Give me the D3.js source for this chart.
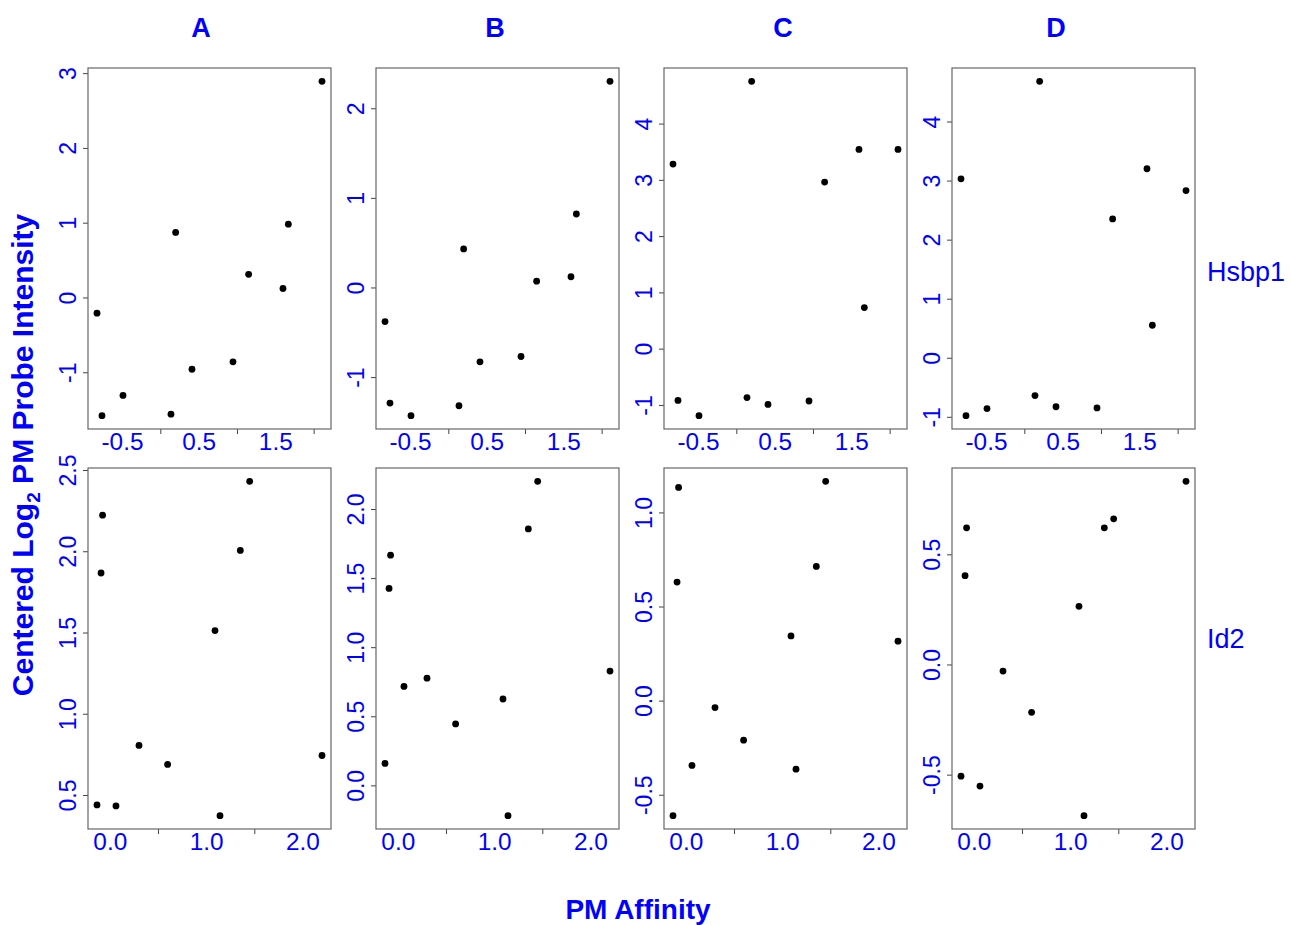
<!DOCTYPE html>
<html>
<head>
<meta charset="utf-8">
<script src="https://cdn.jsdelivr.net/npm/d3@7"></script>
<style>
  body { margin: 0; background: #fff; }
  svg text { font-family: Arial, "Liberation Sans", sans-serif; }
</style>
</head>
<body>
<svg id="chart"></svg>
<script>
const samples = ["A", "B", "C", "D"];
const genes = ["Hsbp1", "Id2"];

// PM affinity of each probe (x), one list per gene
const affinityHsbp1 = [-0.826, -0.761, -0.487, 0.139, 0.200, 0.413, 0.948, 1.152, 1.600, 1.670, 2.109];
const affinityId2 = [-0.133, -0.091, -0.075, 0.064, 0.303, 0.600, 1.092, 1.144, 1.355, 1.452, 2.203];

// centered log2 PM intensity, same probe order
const hsbp1A = [-0.21, -1.58, -1.31, -1.56, 0.87, -0.96, -0.86, 0.31, 0.12, 0.98, 2.89];
const hsbp1B = [-0.38, -1.29, -1.43, -1.32, 0.43, -0.83, -0.77, 0.07, 0.12, 0.82, 2.30];
const hsbp1C = [3.28, -0.92, -1.19, -0.87, 4.75, -0.99, -0.93, 2.96, 3.54, 0.73, 3.54];
const hsbp1D = [3.03, -0.98, -0.86, -0.64, 4.68, -0.83, -0.85, 2.35, 3.20, 0.55, 2.83];

const id2A = [0.439, 1.866, 2.222, 0.433, 0.805, 0.688, 1.512, 0.373, 2.005, 2.430, 0.743];
const id2B = [0.159, 1.425, 1.666, 0.716, 0.776, 0.445, 0.625, -0.219, 1.856, 2.200, 0.827];
const id2C = [-0.611, 0.630, 1.133, -0.344, -0.037, -0.210, 0.344, -0.364, 0.713, 1.165, 0.316];
const id2D = [-0.507, 0.403, 0.620, -0.552, -0.030, -0.217, 0.264, -0.686, 0.620, 0.661, 0.831];

// tick values
const yTicksHsbp1 = [[-1, 0, 1, 2, 3], [-1, 0, 1, 2], [-1, 0, 1, 2, 3, 4], [-1, 0, 1, 2, 3, 4]];
const yTicksId2 = [[0.5, 1.0, 1.5, 2.0, 2.5], [0.0, 0.5, 1.0, 1.5, 2.0], [-0.5, 0.0, 0.5, 1.0], [-0.5, 0.0, 0.5]];
const xLabelsHsbp1 = [-0.5, 0.5, 1.5];
const xMinorHsbp1 = [0, 1, 2];
const xLabelsId2 = [0, 1, 2];
const xMinorId2 = [0.5, 1.5];

let w = 1292;
let h = 925;
let panelLeft = [88, 376, 664, 952];
let panelW = 243;
let rowTop = [68, 468];
let panelH = 361;
let blue = "#0000ff";

let svg = d3.select('#chart').attr('width', w).attr('height', h);

// plain hyphen for negatives, like R
let fmt = spec => v => d3.format(spec)(v).replace('\u2212', '-');

let rows = [
  { x: affinityHsbp1, ys: [hsbp1A, hsbp1B, hsbp1C, hsbp1D], yTicks: yTicksHsbp1,
    xLabels: xLabelsHsbp1, xMinor: xMinorHsbp1, yFmt: fmt('d'), xFmt: fmt('.1f') },
  { x: affinityId2, ys: [id2A, id2B, id2C, id2D], yTicks: yTicksId2,
    xLabels: xLabelsId2, xMinor: xMinorId2, yFmt: fmt('.1f'), xFmt: fmt('.1f') }
];

// R style: extend range by 4% each side
let padExt = vals => {
  let e = d3.extent(vals);
  let d = (e[1] - e[0]) * 0.04;
  return [e[0] - d, e[1] + d];
};

rows.forEach((row, r) => {
  let xSc = d3.scaleLinear().domain(padExt(row.x)).range([0, panelW]);

  row.ys.forEach((yv, c) => {
    let ySc = d3.scaleLinear().domain(padExt(yv)).range([panelH, 0]);
    let g = svg.append('g').attr('transform', 'translate(' + panelLeft[c] + ',' + rowTop[r] + ')');

    // x ticks without labels
    let xMinorAxis = d3.axisBottom(xSc).tickValues(row.xMinor).tickSize(5).tickFormat('');
    g.append('g').attr('transform', 'translate(0,' + panelH + ')').call(xMinorAxis)
      .call(a => a.select('.domain').remove())
      .selectAll('line').attr('stroke', '#444');

    // x labels
    let xLabAxis = d3.axisBottom(xSc).tickValues(row.xLabels).tickSize(0).tickPadding(5).tickFormat(row.xFmt);
    g.append('g').attr('transform', 'translate(0,' + panelH + ')').call(xLabAxis)
      .call(a => a.select('.domain').remove())
      .selectAll('text')
      .attr('fill', blue)
      .style('font-size', '23px')
      .attr('transform', 'scale(1.06,1)');

    // y axis, labels rotated like R's las=0
    let yAxis = d3.axisLeft(ySc).tickValues(row.yTicks[c]).tickSize(5).tickFormat(row.yFmt);
    let ya = g.append('g').call(yAxis);
    ya.select('.domain').remove();
    ya.selectAll('line').attr('stroke', '#444');
    ya.selectAll('text')
      .attr('x', null).attr('dy', null)
      .attr('text-anchor', 'middle')
      .attr('fill', blue)
      .style('font-size', '23px')
      .attr('transform', 'translate(-12,0) scale(1.08,1) rotate(-90)');

    g.append('rect')
      .attr('width', panelW).attr('height', panelH)
      .attr('fill', 'none').attr('stroke', '#666').attr('stroke-width', 1.2);

    g.selectAll('circle')
      .data(row.x.map((xv, i) => [xv, yv[i]]))
      .enter()
      .append('circle')
      .attr('cx', d => xSc(d[0]))
      .attr('cy', d => ySc(d[1]))
      .attr('r', 3.4)
      .attr('fill', '#000');
  });
});

// column (sample) titles
let stripX = [201, 495, 783, 1056];
svg.selectAll('.strip')
  .data(samples)
  .enter()
  .append('text')
  .attr('class', 'strip')
  .attr('x', (d, i) => stripX[i])
  .attr('y', 37)
  .attr('text-anchor', 'middle')
  .attr('fill', blue)
  .style('font-size', '27px')
  .style('font-weight', 'bold')
  .text(d => d);

// row (gene) labels
let geneY = [281, 648];
svg.selectAll('.gene')
  .data(genes)
  .enter()
  .append('text')
  .attr('class', 'gene')
  .attr('x', 1207)
  .attr('y', (d, i) => geneY[i])
  .attr('fill', blue)
  .style('font-size', '27px')
  .text(d => d);

// axis titles
let yt = svg.append('text')
  .attr('transform', 'translate(33,455) rotate(-90)')
  .attr('text-anchor', 'middle')
  .attr('fill', blue)
  .style('font-size', '30px')
  .style('font-weight', 'bold');
yt.append('tspan').text('Centered Log');
yt.append('tspan').attr('dy', 7).style('font-size', '19px').text('2');
yt.append('tspan').attr('dy', -7).text(' PM Probe Intensity');

svg.append('text')
  .attr('x', 638)
  .attr('y', 919)
  .attr('text-anchor', 'middle')
  .attr('fill', blue)
  .style('font-size', '28px')
  .style('font-weight', 'bold')
  .text('PM Affinity');
</script>
</body>
</html>
